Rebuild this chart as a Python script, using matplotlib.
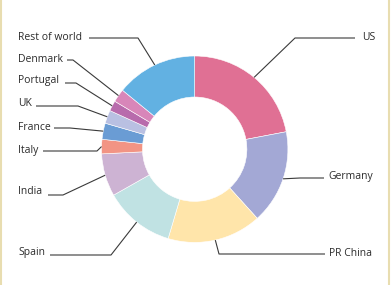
import numpy as np
import matplotlib
matplotlib.use('Agg')
import matplotlib.pyplot as plt

# share of total, clockwise from 12 o'clock
countries = ['US', 'Germany', 'PR China', 'Spain', 'India', 'Italy',
             'France', 'UK', 'Portugal', 'Denmark', 'Rest of world']
shares = [22.0, 16.3, 16.3, 12.2, 7.4, 2.5, 2.8, 2.3, 1.8, 2.3, 14.1]
colors = ['#E07094', '#A3A8D5', '#FFE5AA', '#C0E2E3', '#CDB3D3', '#F29484',
          '#6A9CD4', '#B9C0E2', '#B86BAC', '#D886B9', '#62B1E2']

# label layout in pixel coords (y from top): elbow point, line end, text anchor
elbows = [(295, 38), (300, 178), (219, 254), (111, 255), (63, 195), (97, 151),
          (70, 128), (78, 106), (76, 83), (73, 60), (138, 38)]
line_ends = [355, 324, 325, 50, 48, 43, 54, 36, 65, 67, 89]
text_pos = [(375, 37), (328, 177), (329, 253), (18, 253), (18, 192), (18, 150),
            (18, 127), (18, 104), (18, 81), (18, 59), (18, 37)]

W, H = 392, 285
cx, cy, R = 194.7, 149.2, 93.2

plt.rcParams['font.family'] = ['Open Sans', 'DejaVu Sans']
fig = plt.figure(figsize=(W / 100, H / 100), dpi=100)
ax = fig.add_axes([0, 0, 1, 1])

wedges, _ = ax.pie(shares, colors=colors, startangle=90, counterclock=False,
                   center=(cx, H - cy), radius=R, frame=True,
                   wedgeprops=dict(width=R * 0.44, edgecolor='white', linewidth=0.4))
ax.set_xlim(0, W)
ax.set_ylim(0, H)
ax.set_aspect('equal')
ax.axis('off')

for w, name, el, le, tp in zip(wedges, countries, elbows, line_ends, text_pos):
    mid = np.deg2rad((w.theta1 + w.theta2) / 2)
    x0 = cx + R * np.cos(mid)
    y0 = (H - cy) + R * np.sin(mid)
    ax.plot([x0, el[0], le], [y0, H - el[1], H - el[1]], color='#3a3a3a', lw=0.8,
            solid_capstyle='butt')
    ha = 'right' if name == 'US' else 'left'
    ax.text(tp[0], H - tp[1], name, ha=ha, va='center', fontsize=7.5, color='#2b2b2b')

# beige side rules
ax.plot([1, 1], [0, H], color='#E8DDB0', lw=1.5)
ax.plot([389.5, 389.5], [0, H], color='#E8DDB0', lw=1.5)

fig.savefig('out.png', dpi=100)
